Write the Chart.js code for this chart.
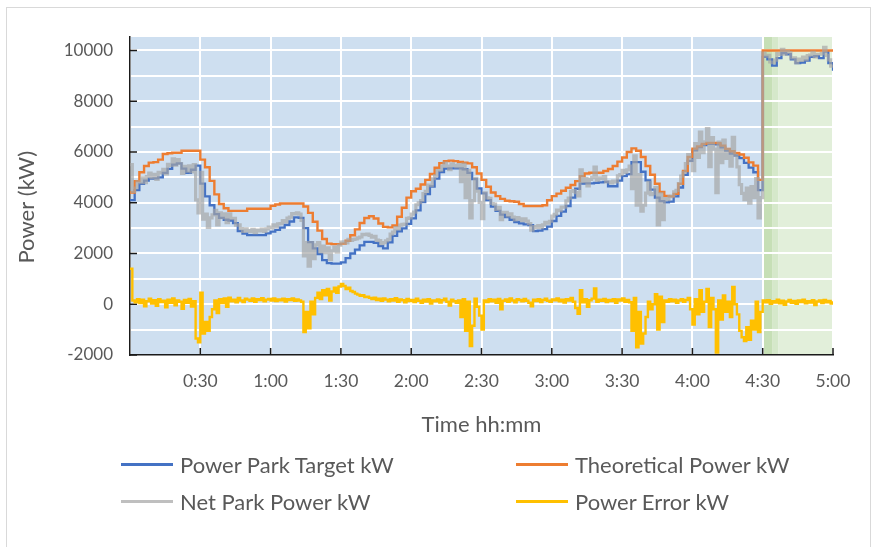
<!DOCTYPE html>
<html><head><meta charset="utf-8">
<script src="https://cdn.jsdelivr.net/npm/chart.js@4.4.1/dist/chart.umd.min.js"></script>
<style>
html,body{margin:0;padding:0;background:#fff;}
#wrap{position:relative;width:877px;height:547px;overflow:hidden;font-family:Lato,'Open Sans',sans-serif;}
#frame{position:absolute;left:6px;top:7px;width:865px;height:560px;border:1px solid #D9D9D9;box-sizing:border-box;}
canvas{position:absolute;left:0;top:0;}
.leg{position:absolute;display:flex;align-items:center;font-size:22px;color:#595959;white-space:nowrap;height:28px;}
.leg .sw{width:52px;height:3px;margin-right:7px;}
</style></head>
<body><div id="wrap"><div id="frame"></div><canvas id="c" width="877" height="547"></canvas><div id="legend"></div></div>
<script>
// ---- data (minutes from start) ----
const TARGET_STEP_MIN = 2;   // Power Park Target & Theoretical sampled every 2 min
const NET_STEP_MIN = 1;      // Net Park Power & Power Error sampled every 1 min
const timeTickLabels = ['', '0:30', '1:00', '1:30', '2:00', '2:30', '3:00', '3:30', '4:00', '4:30', '5:00'];
const yGridValues = [-2000, -1000, 0, 1000, 2000, 3000, 4000, 5000, 6000, 7000, 8000, 9000, 10000];
const yTickLabels = ['-2000', '', '0', '', '2000', '', '4000', '', '6000', '', '8000', '', '10000'];

const powerParkTarget = [
4100,4500,4740,4870,4950,4960,5000,5180,5330,5500,
5550,5340,5180,5300,5460,4750,4250,3900,3550,3400,
3330,3300,3200,2880,2780,2720,2720,2720,2720,2790,
2860,2930,3020,3130,3260,3420,3400,3000,2450,2200,
1980,1740,1620,1600,1600,1650,1820,2000,2150,2320,
2460,2460,2420,2290,2200,2440,2690,2870,2990,3170,
3380,3700,4020,4340,4640,4950,5210,5340,5350,5350,
5350,5320,5180,4930,4560,4370,4100,3850,3680,3530,
3430,3330,3240,3190,3150,3120,2880,2900,2960,3060,
3280,3480,3650,3870,4200,4550,4750,4760,4760,4780,
4800,4820,4650,4650,4870,5050,5130,5600,5600,5220,
4880,4520,4200,4060,4010,4040,4250,4600,5100,5650,
6060,6190,6270,6320,6320,6300,6180,6050,5940,5860,
5760,5570,5380,5200,4500,9750,9650,9400,9700,9900,
9850,9650,9500,9520,9600,9750,9780,9700,9950,9500,
9200];

const theoreticalPower = [
4400,4850,5200,5450,5580,5600,5700,5920,5950,5970,
5970,6050,6050,6050,6050,5700,5400,4860,4330,3950,
3780,3680,3680,3680,3680,3760,3760,3760,3760,3760,
3880,3930,3970,3970,3970,3970,3970,3850,3600,3250,
2900,2570,2390,2370,2370,2390,2500,2720,2950,3200,
3400,3470,3380,3180,3050,3030,3100,3450,3800,4200,
4450,4550,4720,4900,5130,5380,5560,5640,5660,5640,
5610,5580,5550,5400,5150,4900,4630,4400,4260,4150,
4080,4060,4040,3950,3870,3870,3870,3870,3900,4100,
4260,4360,4470,4590,4700,4850,5050,5150,5180,5180,
5180,5250,5330,5450,5620,5780,6000,6140,6050,5800,
5450,5100,4750,4420,4270,4250,4350,4750,5250,5800,
6130,6220,6320,6360,6360,6350,6250,6120,6030,5960,
5900,5770,5590,5460,4900,10000,10000,10000,10000,10000,
10000,10000,10000,10000,10000,10000,10000,10000,10000,10000,
10000];

const netParkPower = [
5500,4450,4580,4820,4790,4985,4790,5030,5170,4985,
5120,4920,5200,5180,5320,5135,5510,5475,5730,5485,
5700,5545,5160,5430,5240,5450,5210,5500,4110,3600,
5200,3350,3550,3025,3400,3525,3700,3125,3600,3415,
3560,3215,3560,3370,3380,3120,3130,2980,2870,2970,
2900,2860,2950,2820,2920,2890,2960,2875,2970,3035,
3010,3125,3060,3165,3180,3295,3240,3395,3430,3570,
3560,3600,3550,3300,1900,2425,1500,2425,1800,2340,
2430,2060,2290,2030,2220,1760,2100,2250,2050,2325,
2450,2455,2420,2560,2520,2555,2570,2615,2650,2750,
2740,2760,2710,2640,2680,2525,2510,2385,2430,2500,
2560,2765,2840,3020,2970,3120,3150,3160,3380,3405,
3550,3630,3920,4000,4080,4360,4450,4690,4670,4945,
5070,5270,5280,5435,5560,5445,5300,5530,5470,5410,
5500,4835,5520,4200,5280,3405,4080,4965,4460,4015,
3370,4385,4190,4175,3970,3945,3740,3815,3330,3620,
3620,3480,3560,3435,3320,3415,3360,3290,3360,3275,
3180,2920,3060,3020,3100,3020,3130,3230,3200,3270,
3470,3540,3710,3685,3830,3830,4070,4185,4450,4475,
4400,4270,5300,4835,4960,4660,4920,4990,5400,4890,
4980,4950,5030,4825,4820,4780,4850,4820,5060,5110,
5280,5190,5300,5445,4550,5850,3900,5110,3670,3900,
4380,4800,4320,4360,4600,3130,4360,3335,4160,4125,
4240,4265,4430,4485,4750,5050,5200,5545,5900,5655,
5260,6325,5790,6780,5970,6395,6920,5420,6570,6110,
4400,6390,5580,6465,5750,6095,5440,6580,5860,5410,
4710,4365,4120,4575,3980,4640,4200,4950,3400,4200,
9900,9780,9810,9545,9520,9620,9880,9840,10040,9855,
9960,9920,9710,9705,9520,9660,9610,9740,9640,9795,
9820,9925,9750,9850,9850,9875,10120,9805,9630,9380,
9320];

const powerError = [
1400,150,80,200,50,180,-80,120,220,30,
160,-60,200,90,140,-120,180,60,230,-40,
150,100,-180,170,60,210,-90,120,-1350,-1500,
450,-1150,-700,-1050,-500,-200,150,-350,200,50,
230,-100,260,120,180,80,250,150,90,220,
180,140,230,100,200,170,240,120,180,210,
150,230,130,190,160,220,110,200,170,230,
140,190,150,100,-1100,-300,-950,100,-400,250,
450,200,550,350,600,150,500,650,450,700,
800,720,600,650,520,480,420,380,330,360,
280,300,250,200,260,170,220,140,230,180,
120,200,150,240,100,190,160,80,210,130,
170,90,220,140,60,180,110,200,30,150,
120,190,70,160,220,100,-50,180,120,60,
150,-500,200,-1050,100,-1650,-850,220,-100,-450,
-1000,150,90,200,120,180,60,210,-200,140,
190,100,230,150,80,200,170,120,210,140,
60,-80,180,130,200,90,170,220,140,100,
190,160,230,120,180,70,200,150,250,100,
-150,-380,550,80,200,-100,160,220,620,100,
180,140,210,90,170,130,200,60,190,150,
230,100,170,80,-1050,250,-1700,-300,-1550,-1150,
-500,100,-200,0,400,-1000,300,-700,150,100,
200,120,180,60,150,200,100,170,250,-200,
-800,200,-400,550,-300,100,600,-900,250,-200,
-1900,150,-600,350,-300,100,-500,680,0,-400,
-1050,-1300,-1450,-900,-1400,-650,-1000,100,-1100,-300,
150,80,160,20,120,70,180,40,140,-20,
110,170,60,130,20,150,90,180,40,120,
70,160,-30,110,150,50,170,80,130,30,
120];

const seriesNames = ['Power Park Target kW', 'Theoretical Power kW', 'Net Park Power kW', 'Power Error kW'];
const seriesColors = ['#4472C4', '#ED7D31', 'rgba(165,165,165,0.68)', '#FFC000'];

// ---- build ----
const toXY = (arr, step) => arr.map((v, i) => ({x: i * step, y: v}));

const bandPlugin = {
  id: 'bands',
  beforeDraw(chart) {
    const {ctx, chartArea: a, scales: {x}} = chart;
    const bands = [
      {from: 0, to: 270, color: '#CEDFF0'},
      {from: 270, to: 274, color: '#C6DFB6'},
      {from: 274, to: 276.6, color: '#D5E8CA'},
      {from: 276.6, to: 300, color: '#E2EFDA'}
    ];
    ctx.save();
    bands.forEach(b => {
      const x0 = x.getPixelForValue(b.from), x1 = x.getPixelForValue(b.to);
      ctx.fillStyle = b.color;
      ctx.fillRect(x0, a.top, x1 - x0, a.bottom - a.top);
    });
    ctx.restore();
  }
};

const tickPlugin = {
  id: 'innerTicks',
  beforeDatasetsDraw(chart) {
    const {ctx, chartArea: a, scales: {x, y}} = chart;
    ctx.save();
    ctx.strokeStyle = '#1a1a1a';
    ctx.lineWidth = 1.5;
    ctx.beginPath();
    y.ticks.forEach(t => {
      if (t.value % 2000 === 0) {
        const py = y.getPixelForValue(t.value);
        ctx.moveTo(a.left, py); ctx.lineTo(a.left + 7, py);
      }
    });
    x.ticks.forEach(t => {
      if (t.value > 0) {
        const px = x.getPixelForValue(t.value);
        ctx.moveTo(px, a.bottom); ctx.lineTo(px, a.bottom - 7);
      }
    });
    ctx.stroke();
    ctx.restore();
  }
};

Chart.defaults.font.family = 'Lato';
Chart.defaults.color = '#595959';

new Chart(document.getElementById('c'), {
  type: 'line',
  data: {
    datasets: [
      {label: seriesNames[0], data: toXY(powerParkTarget, TARGET_STEP_MIN), borderColor: seriesColors[0], borderWidth: 2.3, order: 3},
      {label: seriesNames[1], data: toXY(theoreticalPower, TARGET_STEP_MIN), borderColor: seriesColors[1], borderWidth: 2.4, order: 2},
      {label: seriesNames[2], data: toXY(netParkPower, NET_STEP_MIN), borderColor: seriesColors[2], borderWidth: 3.2, order: 1},
      {label: seriesNames[3], data: toXY(powerError, NET_STEP_MIN), borderColor: seriesColors[3], borderWidth: 2.4, order: 0}
    ]
  },
  options: {
    responsive: false,
    animation: false,
    devicePixelRatio: 1,
    elements: {point: {radius: 0, hoverRadius: 0}, line: {stepped: 'before', tension: 0, borderJoinStyle: 'miter'}},
    layout: {padding: {left: 10, top: 37, right: 44, bottom: 102}},
    plugins: {legend: {display: false}, tooltip: {enabled: false}},
    scales: {
      x: {
        type: 'linear', min: 0, max: 300,
        grid: {color: '#FFFFFF', lineWidth: 2, drawTicks: false},
        border: {display: true, color: '#1a1a1a', width: 1.5},
        ticks: {stepSize: 30, autoSkip: false, maxRotation: 0, padding: 16, font: {size: 17.5},
          callback: (v, i) => timeTickLabels[i]},
        title: {display: true, text: 'Time hh:mm', font: {size: 22}, padding: {top: 0, bottom: 7}},
        afterFit: s => { s.height = 90; }
      },
      y: {
        type: 'linear', min: -2000, max: 10530,
        grid: {color: '#FFFFFF', lineWidth: 2, drawTicks: false},
        border: {display: true, color: '#1a1a1a', width: 1.5},
        afterBuildTicks: s => { s.ticks = yGridValues.map(v => ({value: v})); },
        ticks: {autoSkip: false, padding: 17, font: {size: 17},
          callback: (v, i) => yTickLabels[i]},
        title: {display: true, text: 'Power (kW)    ', font: {size: 22}, padding: {top: 4, bottom: 0}},
        afterFit: s => { s.width = 120; }
      }
    }
  },
  plugins: [bandPlugin, tickPlugin]
});

// ---- legend (HTML) ----
const legendPos = [
  {left: 121, top: 450}, {left: 516, top: 450},
  {left: 121, top: 487}, {left: 516, top: 487}
];
const legendColors = ['#4472C4', '#ED7D31', '#BFBFBF', '#FFC000'];
const lg = document.getElementById('legend');
seriesNames.forEach((name, i) => {
  const d = document.createElement('div');
  d.className = 'leg';
  d.style.left = legendPos[i].left + 'px';
  d.style.top = legendPos[i].top + 'px';
  d.innerHTML = '<span class="sw" style="background:' + legendColors[i] + '"></span><span>' + name + '</span>';
  lg.appendChild(d);
});
</script>
</body></html>
